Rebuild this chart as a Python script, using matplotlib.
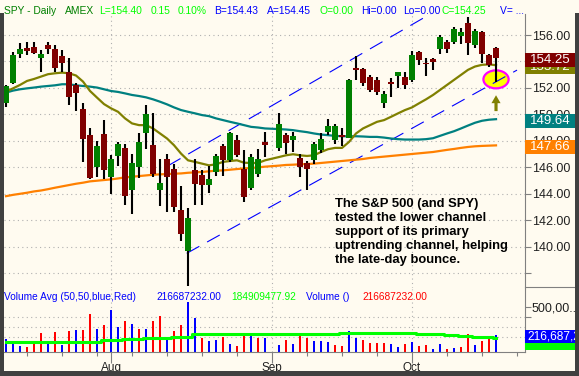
import numpy as np
import pandas as pd
import matplotlib
matplotlib.use('Agg')
import matplotlib.pyplot as plt
import matplotlib.transforms as mtransforms
from matplotlib.patches import Rectangle, Ellipse, FancyArrow

plt.rcParams['font.family'] = ['Liberation Sans', 'DejaVu Sans']

# weekday slots from Jul 11 to Oct 17 2007 (Labor Day slot stays empty)
dates = pd.bdate_range('2007-07-11', '2007-10-17')
nan = np.nan

opens = [150.84, 152.41, 154.53, 155.04, 155.09, 154.30, 155.27, 154.94, 154.43, 153.19,
         152.23, 150.38, 148.41, 146.03, 148.51, 145.27, 146.86, 147.49, 144.30, 146.03,
         148.56, 147.67, 144.28, 146.66, 145.90, 142.81, 139.65, 145.77, 145.42, 144.63,
         145.65, 147.59, 146.53, 148.05, 145.90, 144.43, 145.47, 147.90, nan, 147.49,
         148.43, 148.05, 146.71, 146.33, 146.58, 147.34, 148.66, 148.10, 148.48, 148.25,
         153.49, 153.42, 152.81, 152.61, 150.89, 152.46, 152.94, 152.86, 152.61, 154.71,
         153.92, 154.20, 154.94, 155.44, 155.50, 155.95, 156.90, 155.25, 156.22, 154.52,
         155.02]
highs = [152.20, 154.71, 155.39, 155.47, 155.47, 154.84, 155.47, 155.27, 154.84, 154.25,
         152.41, 150.89, 149.01, 147.97, 149.57, 146.91, 147.92, 147.75, 146.99, 148.63,
         150.71, 150.08, 146.61, 147.04, 146.28, 144.56, 142.94, 146.66, 145.82, 146.08,
         147.04, 147.80, 148.68, 148.43, 147.29, 147.04, 147.37, 148.68, nan, 150.08,
         148.56, 148.68, 147.04, 146.48, 147.92, 148.56, 149.62, 149.27, 148.94, 152.66,
         154.43, 153.49, 152.99, 152.81, 151.80, 152.73, 153.24, 153.24, 154.76, 154.76,
         154.25, 154.25, 156.02, 155.62, 156.62, 156.53, 157.38, 156.45, 156.27, 154.60,
         155.12]
lows = [150.53, 152.30, 154.30, 154.46, 154.53, 153.24, 154.58, 153.19, 153.19, 150.71,
        150.28, 146.41, 145.09, 145.27, 145.14, 143.95, 146.13, 143.16, 142.48, 145.22,
        147.42, 145.27, 143.06, 142.61, 142.61, 140.41, 137.00, 143.16, 143.19, 144.08,
        145.34, 145.34, 146.41, 146.78, 143.37, 144.25, 145.27, 146.78, nan, 147.24,
        147.04, 147.16, 145.27, 144.25, 146.28, 147.09, 148.41, 147.80, 147.59, 148.18,
        152.61, 152.15, 151.72, 151.47, 150.51, 151.34, 151.97, 151.92, 152.48, 153.70,
        152.94, 153.37, 154.57, 154.67, 155.30, 155.32, 154.50, 155.05, 153.86, 153.62,
        152.45]
closes = [152.15, 154.51, 154.96, 154.76, 154.68, 154.58, 154.96, 153.54, 153.92, 151.34,
          151.62, 148.15, 145.19, 147.59, 145.82, 146.61, 147.80, 143.80, 146.35, 147.95,
          150.03, 145.47, 144.84, 145.27, 142.99, 140.94, 142.18, 144.71, 144.63, 145.09,
          146.86, 146.58, 148.56, 146.94, 143.75, 146.78, 146.66, 147.70, nan, 149.27,
          147.85, 148.35, 146.03, 145.85, 147.75, 148.13, 149.11, 149.11, 148.30, 152.61,
          153.39, 152.35, 151.85, 151.72, 151.54, 152.28, 153.19, 152.23, 154.46, 154.08,
          153.80, 153.97, 155.88, 154.93, 156.43, 156.24, 155.38, 156.30, 154.60, 153.73,
          154.25]

ma_olive = [151.72, 151.97, 152.23, 152.53, 152.68, 152.86, 153.04, 153.11, 153.16, 153.11,
            152.94, 152.48, 151.77, 151.27, 150.78, 150.46, 150.20, 149.70, 149.32, 149.19,
            149.19, 148.94, 148.56, 148.18, 147.67, 147.04, 146.53, 146.41, 146.28, 146.15,
            146.23, 146.41, 146.48, 146.53, 146.35, 146.33, 146.33, 146.53, nan, 146.78,
            146.91, 146.99, 146.91, 146.86, 146.91, 147.16, 147.37, 147.47, 147.47, 147.92,
            148.56, 148.94, 149.19, 149.44, 149.57, 149.82, 150.08, 150.33, 150.53, 150.84,
            151.14, 151.47, 151.85, 152.23, 152.61, 152.99, 153.37, 153.62, 153.75, 153.78,
            153.72]
ma_teal = [151.65, 151.80, 151.90, 151.97, 152.03, 152.10, 152.15, 152.20, 152.28, 152.28,
           152.20, 152.15, 152.10, 152.03, 151.90, 151.77, 151.70, 151.59, 151.47, 151.39,
           151.29, 151.14, 150.96, 150.76, 150.53, 150.33, 150.20, 150.08, 149.95, 149.87,
           149.70, 149.57, 149.44, 149.32, 149.19, 149.06, 149.01, 148.94, nan, 148.89,
           148.86, 148.81, 148.73, 148.66, 148.56, 148.48, 148.43, 148.38, 148.35, 148.35,
           148.35, 148.33, 148.30, 148.30, 148.25, 148.18, 148.13, 148.10, 148.10, 148.10,
           148.13, 148.20, 148.38, 148.56, 148.73, 148.94, 149.16, 149.37, 149.52, 149.60,
           149.64]
ma_orange = [143.82, 143.92, 144.00, 144.08, 144.18, 144.25, 144.35, 144.46, 144.56, 144.66,
             144.76, 144.84, 144.94, 144.99, 145.04, 145.09, 145.16, 145.24, 145.29, 145.34,
             145.39, 145.44, 145.47, 145.49, 145.52, 145.54, 145.59, 145.62, 145.65, 145.70,
             145.75, 145.77, 145.82, 145.87, 145.92, 145.95, 146.00, 146.05, nan, 146.13,
             146.18, 146.20, 146.23, 146.25, 146.28, 146.33, 146.38, 146.43, 146.48, 146.53,
             146.58, 146.63, 146.71, 146.76, 146.81, 146.86, 146.91, 146.96, 147.01, 147.06,
             147.11, 147.16, 147.24, 147.32, 147.39, 147.47, 147.54, 147.59, 147.62, 147.64,
             147.66]

# volume in millions of shares, 1 = blue (up day), 0 = red
volume = [177, 127, 107, 93, 133, 240, 140, 247, 117, 257,
          267, 267, 427, 277, 317, 467, 297, 357, 330, 280,
          280, 357, 410, 177, 257, 317, 550, 387, 187, 160,
          167, 193, 127, 107, 217, 207, 187, 190, nan, 117,
          167, 127, 240, 187, 153, 153, 147, 117, 107, 257,
          187, 167, 140, 140, 140, 127, 97, 127, 147, 110,
          113, 77, 127, 77, 87, 97, 227, 117, 157, 173,
          216.69]
vol_up = [1, 1, 1, 0, 0, 0, 1, 0, 1, 0,
          1, 0, 0, 1, 0, 1, 1, 0, 1, 0,
          1, 0, 0, 1, 0, 0, 1, 1, 0, 1,
          1, 0, 1, 0, 0, 1, 0, 1, 0, 1,
          0, 1, 0, 0, 1, 1, 1, 0, 0, 1,
          1, 0, 0, 0, 0, 1, 1, 0, 1, 0,
          0, 1, 1, 0, 1, 0, 0, 1, 0, 0,
          1]
vol_avg = [143, 143, 143, 143, 143, 143, 143, 143, 143, 150,
           150, 150, 150, 150, 163, 163, 163, 173, 173, 173,
           187, 187, 187, 187, 200, 200, 200, 223, 223, 223,
           223, 223, 223, 223, 223, 227, 227, 223, nan, 223,
           223, 223, 223, 223, 223, 223, 223, 223, 233, 233,
           233, 233, 233, 233, 233, 233, 233, 233, 233, 225,
           225, 225, 225, 217, 217, 207, 207, 197, 197, 197,
           184.91]

# trend channel drawn on the chart: (x index, price) end points
chan_lower = [(25.81, 139.50), (73.0, 153.35)]
chan_upper = [(23.14, 146.12), (73.0, 161.38)]

month_labels = ['Aug', 'Sep', 'Oct']
month_starts = ['2007-08-01', '2007-09-03', '2007-10-01']

W, H = 579, 376
BG = '#fffbf0'
GRID = '#b0b0b0'
AXC = '#808080'
TXT = '#202020'

x = np.arange(len(dates))
o, h, l, c = (np.array(v, dtype=float) for v in (opens, highs, lows, closes))
vol = np.array(volume, dtype=float) * 1e6
ok = ~np.isnan(c)

fig = plt.figure(figsize=(W / 100, H / 100), dpi=100)
fig.patch.set_facecolor(BG)
ax = fig.add_axes([4 / W, 88 / H, 521 / W, 274 / H])
axv = fig.add_axes([4 / W, 24 / H, 521 / W, 63 / H])
for a in (ax, axv):
    a.set_facecolor('none')
    for s in ('left', 'top'):
        a.spines[s].set_visible(False)
    a.spines['right'].set_color(AXC)
ax.spines['bottom'].set_visible(False)
axv.spines['bottom'].set_color(AXC)

xlim = (-0.29, 74.14)
ax.set_xlim(*xlim)
axv.set_xlim(*xlim)
ax.set_ylim(136.88, 157.59)
axv.set_ylim(47e6, 677e6)

# grid
for p in range(138, 157, 2):
    ax.axhline(p, color=GRID, lw=0.8, ls=(0, (1, 3)), zorder=0)
for v in (200e6, 300e6, 400e6):
    axv.axhline(v, color=GRID, lw=0.8, ls=(0, (1, 3)), zorder=0)
mpos = [dates.get_loc(pd.Timestamp(d)) for d in month_starts]
for m in mpos:
    ax.axvline(m, color=GRID, lw=0.8, ls=(0, (1, 3)), zorder=0)
    axv.axvline(m, color=GRID, lw=0.8, ls=(0, (1, 3)), zorder=0)

# highlight ellipse and arrow at the last bar
ax.add_patch(Ellipse((70, 152.65), 3.6, 1.36, facecolor='#ffff00', edgecolor='#ff00ff',
                     lw=1.6, zorder=1.5))
ax.add_patch(FancyArrow(70, 150.25, 0, 1.2, width=0.45, head_width=1.3, head_length=0.6,
                        length_includes_head=True, color='#808000', lw=0, zorder=3))

# channel
for ch in (chan_lower, chan_upper):
    ax.plot([ch[0][0], ch[1][0]], [ch[0][1], ch[1][1]], color='#0000ff', lw=0.8,
            dashes=(13, 8), zorder=2)

# moving averages
ax.plot(x[ok], np.array(ma_orange)[ok], color='#ff8000', lw=1.6, zorder=2.5)
ax.plot(x[ok], np.array(ma_teal)[ok], color='#008080', lw=1.6, zorder=2.5)
ax.plot(x[ok], np.array(ma_olive)[ok], color='#808000', lw=1.6, zorder=2.5)

# candles
ax.vlines(x[ok], l[ok], h[ok], color='black', lw=1.5, zorder=3)
up = c >= o
body_col = np.where(up, '#008000', '#800000')
ax.bar(x[ok], np.maximum(np.abs(c - o), 0.08)[ok], bottom=np.minimum(o, c)[ok], width=0.8,
       color=body_col[ok], zorder=4)

ax.tick_params(axis='x', which='both', bottom=False, labelbottom=False)
ax.yaxis.tick_right()
ax.set_yticks(range(140, 157, 2))
ax.set_yticks([138], minor=True)
ax.set_yticklabels([f'{v:.2f}' for v in range(140, 157, 2)])
ax.tick_params(axis='y', which='both', length=4, width=0.8, color=AXC, labelcolor=TXT,
               labelsize=9, pad=1)

# volume
vcol = np.where(np.array(vol_up) == 1, '#0000ff', '#ff0000')
axv.bar(x[ok], vol[ok], width=0.3, color=vcol[ok], zorder=2)
axv.plot(x[ok], np.array(vol_avg, dtype=float)[ok] * 1e6, color='#00ff00', lw=2.2,
         drawstyle='steps-mid', zorder=3)
axv.yaxis.tick_right()
axv.set_yticks([500e6])
axv.set_yticklabels(['500,00...'])
axv.set_yticks([400e6], minor=True)
axv.tick_params(axis='y', which='both', length=4, width=0.8, color=AXC, labelcolor=TXT,
                labelsize=9, pad=1)
mondays = [i for i, d in enumerate(dates) if d.weekday() == 0 and i not in mpos]
axv.set_xticks(mpos)
axv.set_xticklabels(month_labels)
axv.set_xticks(mondays + [73], minor=True)
axv.tick_params(axis='x', which='major', length=8, width=0.8, color=AXC, labelcolor=TXT,
                labelsize=8.5, pad=-1)
axv.tick_params(axis='x', which='minor', length=3, width=0.8, color=AXC)

# value boxes on the right axis
bt = mtransforms.blended_transform_factory(fig.transFigure, ax.transData)
upp = (157.59 - 136.88) / 274.0


def price_box(ypos, label, color, z):
    yc = ypos - 0.12
    fig.add_artist(Rectangle((525 / W, yc - 7 * upp), 50 / W, 14 * upp, transform=bt,
                             facecolor=color, edgecolor='none', zorder=z))
    fig.text(530 / W, yc, label, transform=bt, color='white', fontsize=9.5,
             va='center', ha='left', zorder=z + 0.1)


# olive box sits just under the close box, as the chart stacks them
price_box(closes[-1] - 0.53, f'{ma_olive[-1]:.2f}', '#808000', 20)
price_box(closes[-1], f'{closes[-1]:.2f}', '#800000', 21)
price_box(ma_teal[-1], f'{ma_teal[-1]:.2f}', '#008080', 20)
price_box(ma_orange[-1], f'{ma_orange[-1]:.2f}', '#ff8000', 20)


def fx(px_):
    return px_ / W


def fy(py_):
    return 1 - py_ / H


fig.add_artist(Rectangle((fx(525), fy(350)), 50 / W, 7 / H, transform=fig.transFigure,
                         facecolor='#00ff00', edgecolor='none', zorder=20))
fig.add_artist(Rectangle((fx(525), fy(343)), 50 / W, 13 / H, transform=fig.transFigure,
                         facecolor='#0000ff', edgecolor='none', zorder=21))
fig.text(fx(527), fy(336.5), '216,687,2', color='white', fontsize=8.6, va='center',
         zorder=22)
fig.add_artist(plt.Line2D([fx(525), fx(575)], [fy(287), fy(287)], transform=fig.transFigure,
                          color=AXC, lw=0.8))

# header
hdr = [(4, 'SPY - Daily', '#008000'), (65, 'AMEX', '#008000'), (99, 'L=154.40', '#00ff00'),
       (151, '0.15', '#00ff00'), (178, '0.10%', '#00ff00'), (214, 'B=154.43', '#0000ff'),
       (267, 'A=154.45', '#0000ff'), (320, 'O=0.00', '#00ff00'), (361, 'Hi=0.00', '#0000ff'),
       (403, 'Lo=0.00', '#0000ff'), (442, 'C=154.25', '#00ff00'), (500, 'V= ...', '#0000ff')]
for xp, t, col in hdr:
    fig.text(fx(xp), fy(11), t, color=col, fontsize=7.4, va='center', ha='left')

vhdr = [(4, 'Volume Avg (50,50,blue,Red)', '#0000ff'), (156, '216687232.00', '#0000ff'),
        (231, '184909477.92', '#00ff00'), (306, 'Volume ()', '#0000ff'),
        (362, '216687232.00', '#ff0000')]
for xp, t, col in vhdr:
    fig.text(fx(xp), fy(296.5), t, color=col, fontsize=7.3, va='center', ha='left')

note = ('The S&P 500 (and SPY)\ntested the lower channel\nsupport of its primary\n'
        'uptrending channel, helping\nthe late-day bounce.')
fig.text(fx(335), fy(198), note, color='black', fontsize=9.4, fontweight='bold',
         va='top', ha='left', linespacing=1.22)

# dark frame
for rx, ry, rw, rh in ((0, 13, 4, 363), (575, 13, 4, 363), (0, 371, 579, 5)):
    fig.add_artist(Rectangle((fx(rx), fy(ry + rh)), rw / W, rh / H, transform=fig.transFigure,
                             facecolor='#404040', edgecolor='none', zorder=30))

fig.savefig('out.png', dpi=100, facecolor=BG)
